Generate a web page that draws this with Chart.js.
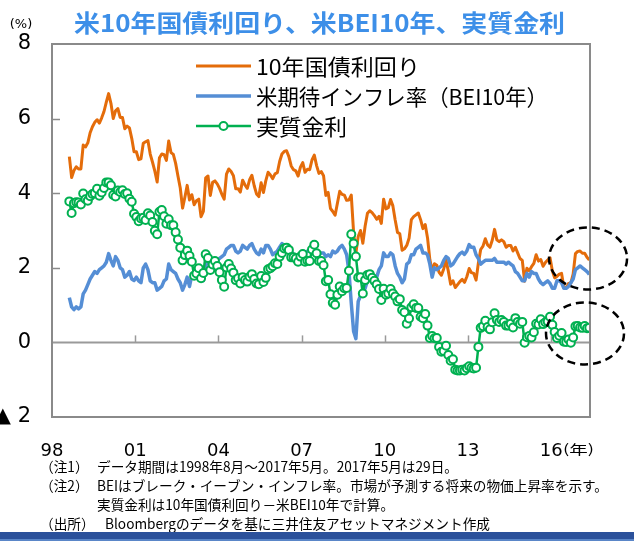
<!DOCTYPE html>
<html><head><meta charset="utf-8">
<script src="https://cdn.jsdelivr.net/npm/chart.js@4.4.1/dist/chart.umd.min.js"></script>
<style>html,body{margin:0;padding:0;background:#fff;overflow:hidden}#wrap{position:relative;width:634px;height:541px}canvas{display:block}</style>
</head><body><div id="wrap"><canvas id="c" width="634" height="541"></canvas></div>
<script>
// ---- data (month-end, Aug 1998 - May 2017) ----
const startYear = 1998, startMonth = 8;
const yield10y = [
 4.98,4.42,4.61,4.71,4.65,
 4.65,5.29,5.24,5.35,5.62,5.78,5.90,5.97,5.88,6.02,6.19,6.44,
 6.67,6.41,6.00,6.21,6.27,6.03,6.03,5.73,5.80,5.75,5.47,5.11,
 5.11,4.90,4.92,5.34,5.38,5.41,5.05,4.83,4.59,4.30,4.95,5.05,
 5.03,4.88,5.40,5.09,5.04,4.80,4.46,4.14,3.60,3.89,4.21,3.82,
 3.96,3.69,3.80,3.84,3.37,3.51,4.41,4.46,3.94,4.29,4.33,4.25,
 4.13,3.97,3.84,4.51,4.65,4.58,4.47,4.12,4.12,4.03,4.35,4.22,
 4.13,4.36,4.48,4.20,3.98,3.91,4.28,4.02,4.33,4.56,4.49,4.39,
 4.52,4.55,4.85,5.05,5.12,5.14,4.98,4.73,4.63,4.60,4.46,4.70,
 4.82,4.56,4.64,4.63,4.89,5.02,4.74,4.53,4.58,4.47,3.94,4.02,
 3.59,3.51,3.41,3.73,4.05,3.97,3.95,3.81,3.82,3.95,2.95,2.40,
 2.84,3.00,2.66,3.12,3.46,3.53,3.48,3.40,3.30,3.38,3.19,3.84,
 3.58,3.61,3.83,3.66,3.28,2.95,2.91,2.47,2.51,2.60,2.79,3.29,
 3.37,3.42,3.47,3.29,3.05,3.16,2.80,2.22,1.92,2.11,2.07,1.88,
 1.80,1.97,2.21,1.91,1.56,1.65,1.47,1.55,1.63,1.69,1.61,1.76,
 1.98,1.87,1.85,1.67,2.13,2.49,2.58,2.78,2.61,2.55,2.74,3.03,
 2.75,2.70,2.75,2.70,2.55,2.60,2.60,2.45,2.55,2.40,2.25,2.20,
 1.64,1.99,1.92,2.03,2.12,2.35,2.18,2.22,2.04,2.14,2.21,2.27,
 1.92,1.73,1.77,1.83,1.85,1.47,1.46,1.58,1.59,1.83,2.38,2.44,
 2.45,2.39,2.39,2.28,2.21
];
const bei10y = [
 1.20,0.95,0.88,0.95,0.90,
 0.95,1.30,1.40,1.55,1.70,1.80,1.90,1.85,1.95,2.00,2.05,2.15,
 2.38,2.20,2.05,2.30,2.20,2.00,1.95,1.75,1.80,1.90,1.70,1.66,
 1.75,1.65,1.60,2.00,2.10,1.95,1.65,1.60,1.60,1.40,1.45,1.50,
 1.65,1.70,2.10,1.95,1.90,1.85,1.70,1.60,1.40,1.55,1.75,1.50,
 1.80,1.90,1.95,1.85,1.65,1.65,2.05,2.20,2.00,2.20,2.15,2.20,
 2.25,2.30,2.35,2.50,2.55,2.60,2.60,2.45,2.40,2.45,2.60,2.55,
 2.50,2.60,2.65,2.50,2.40,2.35,2.50,2.40,2.60,2.60,2.50,2.35,
 2.40,2.45,2.55,2.65,2.60,2.60,2.50,2.45,2.35,2.35,2.30,2.40,
 2.45,2.40,2.45,2.45,2.40,2.40,2.35,2.35,2.40,2.40,2.30,2.35,
 2.30,2.45,2.40,2.45,2.55,2.60,2.50,2.35,1.90,1.05,0.30,0.10,
 1.10,1.25,1.35,1.45,1.65,1.70,1.75,1.75,1.75,1.95,2.05,2.40,
 2.30,2.30,2.40,2.35,2.05,1.85,1.75,1.60,1.70,2.10,2.15,2.35,
 2.35,2.50,2.55,2.60,2.40,2.40,2.35,2.10,1.75,2.00,1.95,2.00,
 2.05,2.20,2.30,2.25,2.05,2.10,2.20,2.30,2.38,2.42,2.36,2.45,
 2.62,2.55,2.55,2.35,2.25,2.10,2.15,2.20,2.20,2.20,2.20,2.25,
 2.15,2.15,2.15,2.15,2.10,2.15,2.10,2.05,1.90,1.85,1.75,1.65,
 1.65,1.85,1.75,1.90,1.85,1.85,1.70,1.60,1.55,1.60,1.65,1.58,
 1.45,1.45,1.65,1.65,1.60,1.45,1.45,1.50,1.60,1.70,1.95,2.00,
 2.05,2.00,1.95,1.90,1.82
];
const realRate = [
 3.78,3.47,3.73,3.76,3.75,
 3.70,3.99,3.84,3.80,3.92,3.98,4.00,4.12,3.93,4.02,4.14,4.29,
 4.29,4.21,3.95,3.91,4.07,4.03,4.08,3.98,4.00,3.85,3.77,3.45,
 3.36,3.25,3.32,3.34,3.28,3.46,3.40,3.23,2.99,2.90,3.50,3.55,
 3.38,3.18,3.30,3.14,3.14,2.95,2.76,2.54,2.20,2.34,2.46,2.32,
 2.16,1.79,1.85,1.99,1.72,1.86,2.36,2.26,1.94,2.09,2.18,2.05,
 1.88,1.67,1.49,2.01,2.10,1.98,1.87,1.67,1.72,1.58,1.75,1.67,
 1.63,1.76,1.83,1.70,1.58,1.56,1.78,1.62,1.73,1.96,1.99,2.04,
 2.12,2.10,2.30,2.40,2.52,2.54,2.48,2.28,2.28,2.25,2.16,2.30,
 2.37,2.16,2.19,2.18,2.49,2.62,2.39,2.18,2.18,2.07,1.64,1.67,
 1.29,1.06,1.01,1.28,1.50,1.37,1.45,1.46,1.92,2.90,2.65,2.30,
 1.74,1.75,1.31,1.67,1.81,1.83,1.73,1.65,1.55,1.43,1.14,1.44,
 1.28,1.31,1.43,1.31,1.23,1.10,1.16,0.87,0.81,0.50,0.64,0.94,
 1.02,0.92,0.92,0.69,0.65,0.76,0.45,0.12,0.17,0.11,0.12,-0.12,
 -0.25,-0.23,-0.09,-0.34,-0.49,-0.45,-0.73,-0.75,-0.75,-0.73,-0.75,-0.69,
 -0.64,-0.68,-0.70,-0.68,-0.12,0.39,0.43,0.58,0.41,0.35,0.54,0.78,
 0.60,0.55,0.60,0.55,0.45,0.45,0.50,0.40,0.65,0.55,0.50,0.55,
 -0.01,0.14,0.17,0.13,0.27,0.50,0.48,0.62,0.49,0.54,0.56,0.69,
 0.47,0.28,0.12,0.18,0.25,0.02,0.01,0.08,-0.01,0.13,0.43,0.44,
 0.40,0.39,0.44,0.38,0.39
];
const seriesNames = ['10年国債利回り', '米期待インフレ率（BEI10年）', '実質金利'];
const xTickYears = [1998, 2001, 2004, 2007, 2010, 2013, 2016];
const xTickLabels = ['98', '01', '04', '07', '10', '13', '16'];
const yTickValues = [-2, 0, 2, 4, 6, 8];
const yTickLabels = ['▲ 2', '0', '2', '4', '6', '8'];
const titleText = '米10年国債利回り、米BEI10年、実質金利';
const unitText = '(%)';
const yearUnit = '(年)';
const notes = [
  ['（注1）', 'データ期間は1998年8月～2017年5月。2017年5月は29日。'],
  ['（注2）', 'BEIはブレーク・イーブン・インフレ率。市場が予測する将来の物価上昇率を示す。'],
  ['', '実質金利は10年国債利回り－米BEI10年で計算。'],
  ['（出所）', 'Bloombergのデータを基に三井住友アセットマネジメント作成']
];

// ---- build ----
const xs = yield10y.map((_, i) => startYear + (startMonth - 1 + i + 0.5) / 12);
const pts = arr => arr.map((v, i) => ({ x: xs[i], y: v }));
const C_OR = '#E46C0A', C_BL = '#558ED5', C_GR = '#00B050';
const CJK = '"Noto Sans CJK JP", "Noto Sans", sans-serif';

function fitText(ctx, text, x, y, w) {
  const m = ctx.measureText(text).width;
  scaledText(ctx, text, x, y, w / m);
}
function scaledText(ctx, text, x, y, s) {
  ctx.save(); ctx.translate(x, y); ctx.scale(s, 1);
  ctx.textAlign = 'left'; ctx.fillText(text, 0, 0); ctx.restore();
}

const deco = {
  id: 'deco',
  beforeDatasetsDraw(chart) {
    const { ctx, chartArea: a, scales: { x, y } } = chart;
    ctx.save();
    const y0 = y.getPixelForValue(0);
    ctx.strokeStyle = '#9A9A9A'; ctx.lineWidth = 2;
    ctx.beginPath(); ctx.moveTo(a.left, y0); ctx.lineTo(a.right, y0); ctx.stroke();
    ctx.lineWidth = 1.5;
    xTickYears.forEach(v => {
      if (v === xTickYears[0]) return;
      const px = Math.round(x.getPixelForValue(v)) + 0.5;
      ctx.beginPath(); ctx.moveTo(px, y0); ctx.lineTo(px, y0 - 7); ctx.stroke();
    });
    ctx.restore();
  },
  afterDraw(chart) {
    const { ctx, chartArea: a, scales: { x, y } } = chart;
    ctx.save();
    // plot border
    ctx.strokeStyle = '#8A8A8A'; ctx.lineWidth = 2;
    ctx.strokeRect(a.left, a.top, a.right - a.left, a.bottom - a.top);
    // inward y ticks
    ctx.lineWidth = 1.5;
    yTickValues.forEach(v => {
      if (v === yTickValues[0] || v === yTickValues[yTickValues.length - 1] || v === 0) return;
      const py = Math.round(y.getPixelForValue(v)) + 0.5;
      ctx.beginPath(); ctx.moveTo(a.left, py); ctx.lineTo(a.left + 8, py); ctx.stroke();
    });
    // title
    ctx.fillStyle = '#3D8FE8';
    ctx.font = 'bold 24px ' + CJK;
    ctx.textBaseline = 'middle';
    fitText(ctx, titleText, 74, 23, 491);
    // unit
    ctx.fillStyle = '#000';
    ctx.font = '13px "DejaVu Sans", sans-serif';
    ctx.textAlign = 'center';
    ctx.fillText(unitText, 21, 25);
    // year unit
    ctx.font = '13px ' + CJK;
    fitText(ctx, yearUnit, 563, 449, 31);
    // legend
    const ds = chart.data.datasets;
    const rowsY = [66, 96, 126];
    const widths = [164, 292, 91];
    ds.forEach((d, i) => {
      const ry = rowsY[i];
      ctx.strokeStyle = d.borderColor; ctx.lineWidth = d.borderWidth;
      ctx.beginPath(); ctx.moveTo(196, ry); ctx.lineTo(251, ry); ctx.stroke();
      if (d.pointRadius > 0) {
        ctx.beginPath(); ctx.arc(223.5, ry, d.pointRadius, 0, Math.PI * 2);
        ctx.fillStyle = '#fff'; ctx.fill();
        ctx.lineWidth = d.pointBorderWidth; ctx.strokeStyle = d.pointBorderColor; ctx.stroke();
      }
      ctx.fillStyle = '#000';
      ctx.font = '22px ' + CJK;
      ctx.textBaseline = 'middle';
      fitText(ctx, d.label, 256, ry + 1, widths[i]);
    });
    // dashed ellipses
    ctx.strokeStyle = '#000'; ctx.lineWidth = 2.5; ctx.setLineDash([8, 5]);
    [[2017.33, 2.25], [2017.22, 0.24]].forEach(([vx, vy]) => {
      ctx.beginPath();
      ctx.ellipse(x.getPixelForValue(vx), y.getPixelForValue(vy), 39, 31, 0, 0, Math.PI * 2);
      ctx.stroke();
    });
    ctx.setLineDash([]);
    // notes: one common horizontal scale, set so that the longest line fits
    ctx.fillStyle = '#000';
    ctx.font = '14px ' + CJK;
    ctx.textBaseline = 'middle';
    const noteY = [467, 486, 505, 524];
    const bodyX = [97, 97, 97, 105];
    const s = 511 / ctx.measureText(notes[1][1]).width;
    notes.forEach((n, i) => {
      if (n[0]) scaledText(ctx, n[0], 40, noteY[i], s);
      scaledText(ctx, n[1], bodyX[i], noteY[i], s);
    });
    // bottom band
    ctx.fillStyle = '#2B519B';
    ctx.fillRect(0, 532, 634, 7);
    ctx.fillStyle = '#5A86C8';
    ctx.fillRect(0, 539, 634, 2);
    ctx.restore();
  }
};

new Chart(document.getElementById('c').getContext('2d'), {
  type: 'line',
  data: {
    datasets: [
      { label: seriesNames[0], data: pts(yield10y), borderColor: C_OR, borderWidth: 3, pointRadius: 0, order: 2 },
      { label: seriesNames[1], data: pts(bei10y), borderColor: C_BL, borderWidth: 3.5, pointRadius: 0, order: 1 },
      { label: seriesNames[2], data: pts(realRate), borderColor: C_GR, borderWidth: 2.5, pointRadius: 4,
        pointBackgroundColor: '#fff', pointBorderColor: C_GR, pointBorderWidth: 2, order: 0 }
    ]
  },
  options: {
    responsive: false, animation: false,
    layout: { padding: { top: 44, right: 44, left: 0, bottom: 0 } },
    elements: { line: { tension: 0, borderJoinStyle: 'round' } },
    plugins: { legend: { display: false }, tooltip: { enabled: false }, title: { display: false } },
    scales: {
      x: {
        type: 'linear', min: 1998, max: 2017.4,
        afterBuildTicks: s => { s.ticks = xTickYears.map(v => ({ value: v })); },
        afterFit: s => { s.height = 124; },
        grid: { display: false, drawTicks: false }, border: { display: false },
        ticks: {
          autoSkip: false, maxRotation: 0, padding: 24, color: '#000',
          font: { family: '"DejaVu Sans", sans-serif', size: 18 },
          callback: v => xTickLabels[xTickYears.indexOf(v)]
        }
      },
      y: {
        min: -2, max: 8,
        afterBuildTicks: s => { s.ticks = yTickValues.map(v => ({ value: v })); },
        afterFit: s => { s.width = 52; },
        grid: { display: false, drawTicks: false }, border: { display: false },
        ticks: {
          padding: 21, color: '#000',
          font: { family: '"DejaVu Sans", sans-serif', size: 21 },
          callback: v => yTickLabels[yTickValues.indexOf(v)]
        }
      }
    }
  },
  plugins: [deco]
});
</script>
</body></html>
